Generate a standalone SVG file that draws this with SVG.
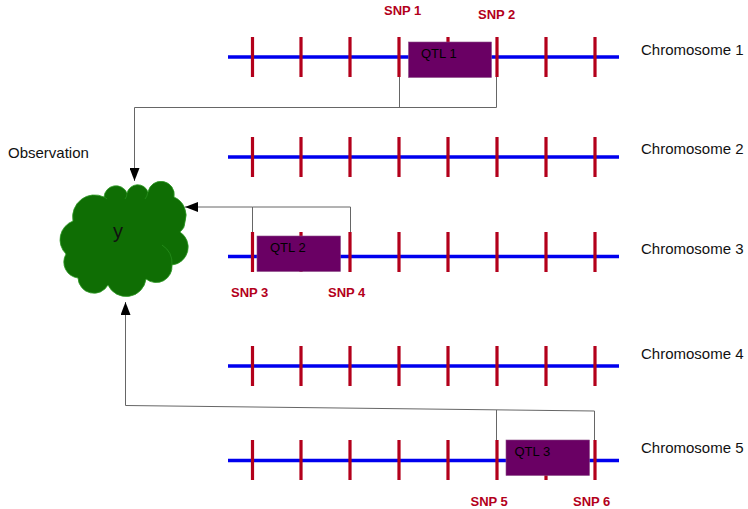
<svg xmlns="http://www.w3.org/2000/svg" width="748" height="509" viewBox="0 0 748 509">
<defs>
<style>
.chr{stroke:#0000ee;stroke-width:3.5;fill:none}
.tick{stroke:#b3001b;stroke-width:3.2;fill:none}
.qtl{fill:#6a0064;stroke:#8a4a86;stroke-width:.6}
.lbl{font-family:"Liberation Sans",Arial,sans-serif;font-size:15px;fill:#111}
.qt{font-family:"Liberation Sans",Arial,sans-serif;font-size:13px;fill:#000}
.snp{font-family:"Liberation Sans",Arial,sans-serif;font-size:13px;font-weight:bold;fill:#b3001b}
.con{stroke:#666;stroke-width:1;fill:none}
</style>
<marker id="ah" markerUnits="userSpaceOnUse" markerWidth="14" markerHeight="10" refX="13" refY="5" orient="auto"><path d="M0 0L13 5L0 10Z" fill="#000"/></marker>
</defs>
<rect width="748" height="509" fill="#fff"/>
<g id="connectors">
<path class="con" d="M399.500 77V107.500M496.500 77V107.500H134.500V181" marker-end="url(#ah)"/>
<path class="con" d="M252.500 232V207H350.500V232M252.500 207H185" marker-end="url(#ah)"/>
<path class="con" d="M496.500 440V410M594.500 440V411L125.500 405.500V302" marker-end="url(#ah)"/>
</g>
<g id="chromosome-1">
<path class="chr" d="M228 57H619"/>
<path class="tick" d="M252.500 37V77M301 37V77M350 37V77M399 37V77M448 37V77M497 37V77M546 37V77M595 37V77"/>
<text class="lbl" x="641" y="55">Chromosome 1</text>
</g>
<g id="chromosome-2">
<path class="chr" d="M228 157H619"/>
<path class="tick" d="M252.500 137V177M301 137V177M350 137V177M399 137V177M448 137V177M497 137V177M546 137V177M595 137V177"/>
<text class="lbl" x="641" y="154">Chromosome 2</text>
</g>
<g id="chromosome-3">
<path class="chr" d="M228 256.500H619"/>
<path class="tick" d="M252.500 232V272M301 232V272M350 232V272M399 232V272M448 232V272M497 232V272M546 232V272M595 232V272"/>
<text class="lbl" x="641" y="254">Chromosome 3</text>
</g>
<g id="chromosome-4">
<path class="chr" d="M228 366H619"/>
<path class="tick" d="M252.500 346V386M301 346V386M350 346V386M399 346V386M448 346V386M497 346V386M546 346V386M595 346V386"/>
<text class="lbl" x="641" y="359">Chromosome 4</text>
</g>
<g id="chromosome-5">
<path class="chr" d="M228 460.500H619"/>
<path class="tick" d="M252.500 440V480M301 440V480M350 440V480M399 440V480M448 440V480M497 440V480M546 440V480M595 440V480"/>
<text class="lbl" x="641" y="453">Chromosome 5</text>
</g>
<g id="qtl-1"><rect class="qtl" x="408.500" y="42" width="83" height="35.500"/><text class="qt" x="421" y="58">QTL 1</text></g>
<g id="qtl-2"><rect class="qtl" x="257" y="236" width="83.500" height="35.500"/><text class="qt" x="270" y="252">QTL 2</text></g>
<g id="qtl-3"><rect class="qtl" x="506" y="440" width="83.500" height="35.500"/><text class="qt" x="514.500" y="456">QTL 3</text></g>
<g id="snp-1"><text class="snp" x="384" y="15">SNP 1</text></g>
<g id="snp-2"><text class="snp" x="478" y="18.500">SNP 2</text></g>
<g id="snp-3"><text class="snp" x="231" y="296.500">SNP 3</text></g>
<g id="snp-4"><text class="snp" x="328" y="296.500">SNP 4</text></g>
<g id="snp-5"><text class="snp" x="470.500" y="506">SNP 5</text></g>
<g id="snp-6"><text class="snp" x="573" y="506">SNP 6</text></g>
<g id="observation"><text class="lbl" x="8" y="158">Observation</text></g>
<g id="y">
<path d="M73 221A22 22 0 0 1 104 197A12 12 0 0 1 127 193A11 11 0 0 1 148 192A13 13 0 0 1 174 197A20 20 0 0 1 185 222Q185 228 180 232A18 18 0 0 1 172 265A16 16 0 0 1 146 279A20 20 0 0 1 108 285A16 16 0 0 1 78 278A16 16 0 0 1 66 254A20 20 0 0 1 73 221Z" fill="#0f6e04" stroke="#2f9a26" stroke-width=".8"/>
<path d="M162 245A22 22 0 0 1 172 265M104 197Q106 198 107 199M127 193Q127 197 125 199M148 192Q147 197 145 199" fill="none" stroke="#2f9a26" stroke-width=".6"/>
<text x="113" y="238" font-family="'Liberation Sans',Arial,sans-serif" font-size="20" fill="#111">y</text>
</g>
</svg>
